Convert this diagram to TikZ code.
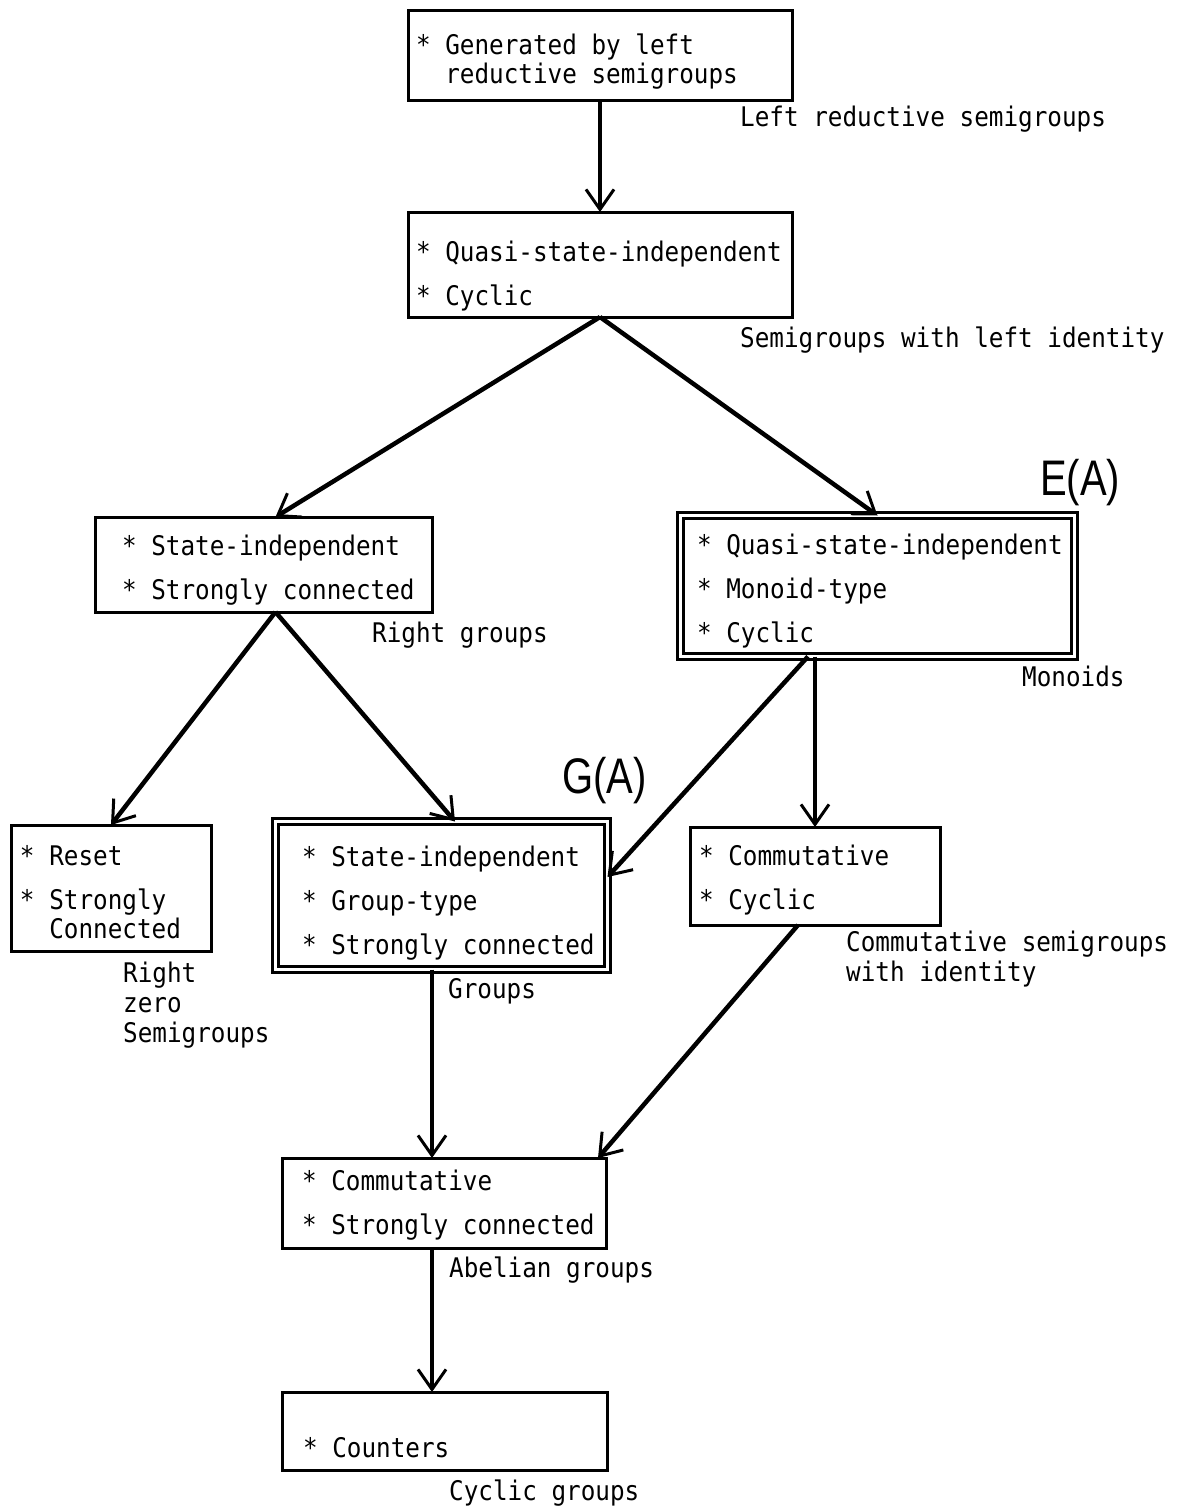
\documentclass[tikz,border=0pt]{standalone}
\usepackage{fontspec}
\newfontfamily\twfont{DejaVu Sans Mono}[FakeStretch=0.9]
\newfontfamily\handfont{Liberation Sans}[FakeStretch=0.8]
\usetikzlibrary{arrows.meta,calc}
\newlength{\propindent}
\newlength{\propdrop}
\newcommand{\prop}{\spaceskip=0pt\xspaceskip=0pt\hspace*{\propindent}*~}
\newcommand{\firstprop}{\rule{0pt}{\dimexpr21pt+\propdrop\relax}\prop}
\newcommand{\cont}{\spaceskip=0pt\xspaceskip=0pt\hspace*{\propindent}\hphantom{*}~}
\tikzset{
  propbox/.style={draw, line width=3pt, anchor=north west, inner xsep=0pt, inner ysep=0pt,
    outer sep=0pt, align=left, font=\twfont\fontsize{27}{29}\selectfont},
  dblbox/.style={propbox, line width=2.5pt, double, double distance=3.5pt},
  indent/.code={\setlength{\propindent}{#1}},
  drop/.code={\setlength{\propdrop}{#1}},
  tag/.style={anchor=base west, inner sep=0pt, align=left, font=\twfont\fontsize{27}{30}\selectfont},
  biglabel/.style={anchor=base west, inner sep=0pt, font=\handfont\fontsize{50}{50}\selectfont},
  implies/.style={-{Straight Barb[length=20pt,width=28pt,line width=3pt]}, line width=4.5pt}
}
\begin{document}
\begin{tikzpicture}[x=1pt, y=-1pt]
\useasboundingbox (0,0) rectangle (1181,1510);

% Boxes
\node[propbox, text width=384pt, minimum height=90pt, indent=8pt, drop=12pt] (gen) at (408,10)
  {\firstprop Generated by left\\\cont reductive semigroups};
\node[propbox, text width=384pt, minimum height=105pt, indent=8pt, drop=22pt] (quasi) at (408,212)
  {\firstprop Quasi-state-independent\\[15pt]\prop Cyclic};
\node[propbox, text width=337pt, minimum height=95pt, indent=27pt, drop=10pt] (stateind) at (95,517)
  {\firstprop State-independent\\[15pt]\prop Strongly connected};
\node[dblbox, text width=394pt, minimum height=141pt, indent=16.5pt, drop=10pt] (monoid) at (680.5,515.5)
  {\firstprop Quasi-state-independent\\[15pt]\prop Monoid-type\\[15pt]\prop Cyclic};
\node[propbox, text width=200pt, minimum height=126pt, indent=9pt, drop=8pt] (reset) at (11,825)
  {\firstprop Reset\\[15pt]\prop Strongly\\\cont Connected};
\node[dblbox, text width=332pt, minimum height=148pt, indent=26.5pt, drop=14pt] (group) at (275.5,821.5)
  {\firstprop State-independent\\[15pt]\prop Group-type\\[15pt]\prop Strongly connected};
\node[propbox, text width=250pt, minimum height=98pt, indent=9pt, drop=8pt] (comm) at (690,827)
  {\firstprop Commutative\\[15pt]\prop Cyclic};
\node[propbox, text width=324pt, minimum height=90pt, indent=20pt, drop=4pt] (abelian) at (282,1158)
  {\firstprop Commutative\\[15pt]\prop Strongly connected};
\node[propbox, text width=325pt, minimum height=78pt, indent=21pt, drop=32pt] (counters) at (282,1392)
  {\firstprop Counters};

% Class names
\node[tag] (lrs) at (740,126) {Left reductive semigroups};
\node[tag] (slid) at (740,347) {Semigroups with left identity};
\node[tag] (rgrp) at (372,642) {Right groups};
\node[tag] (mono) at (1022,686) {Monoids};
\node[tag] (rzs) at (123,1042) {Right\\zero\\Semigroups};
\node[tag] (grp) at (448,998) {Groups};
\node[tag] (csg) at (846,981) {Commutative semigroups\\with identity};
\node[tag] (abg) at (449,1277) {Abelian groups};
\node[tag] (cyg) at (449,1500) {Cyclic groups};
\node[biglabel] (ea) at (1040,495) {E(A)};
\node[biglabel] (ga) at (562,793) {G(A)};

% Implications
\draw[implies] (gen.south) -- (quasi.north);
\draw[implies] (quasi.south) -- ([xshift=12pt]stateind.north);
\draw[implies] (quasi.south) -- (monoid.north);
\draw[implies] ([xshift=12pt]stateind.south) -- (reset.north);
\draw[implies] ([xshift=12pt]stateind.south) -- ([xshift=13.5pt]group.north);
\draw[implies] ([xshift=-69.5pt]monoid.south) -- ([yshift=18.5pt]group.east);
\draw[implies] ([xshift=-62.5pt]monoid.south) -- (comm.north);
\draw[implies] ([xshift=-9.5pt]group.south) -- ([xshift=-12pt]abelian.north);
\draw[implies] ([xshift=-17pt]comm.south) -- ([xshift=154pt]abelian.north);
\draw[implies] ([xshift=-12pt]abelian.south) -- ([xshift=-12.5pt]counters.north);
\end{tikzpicture}
\end{document}
